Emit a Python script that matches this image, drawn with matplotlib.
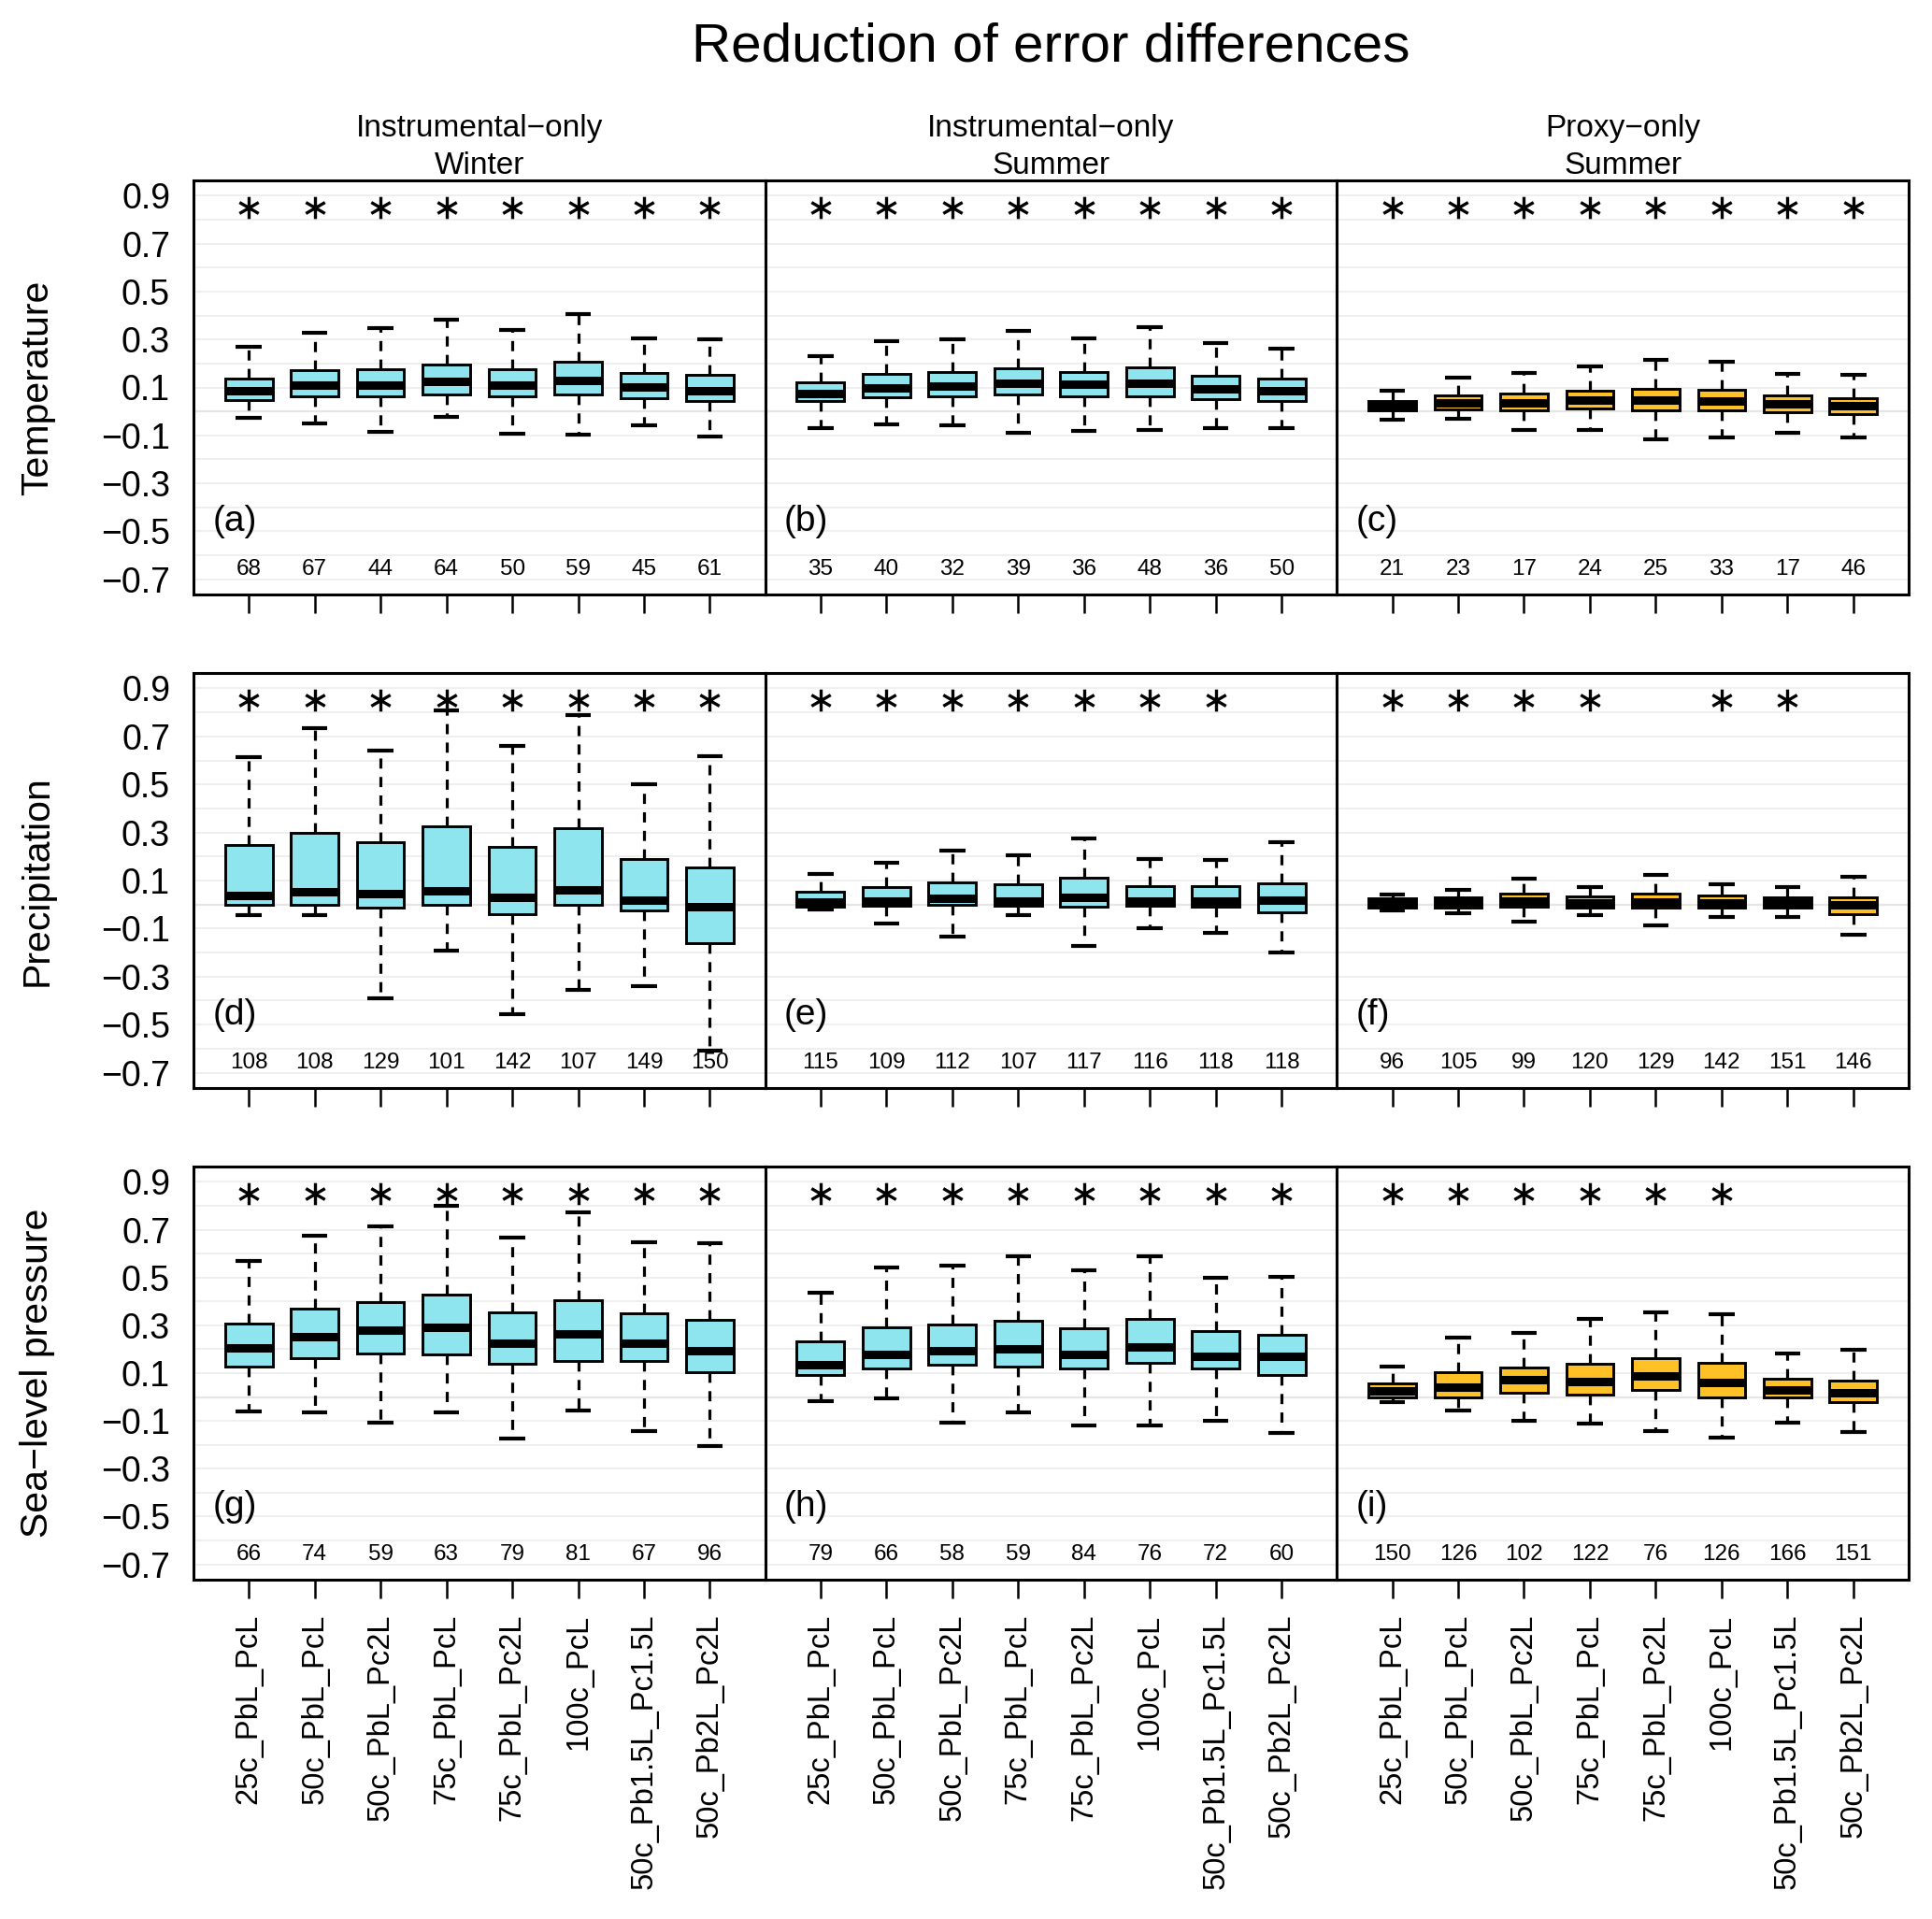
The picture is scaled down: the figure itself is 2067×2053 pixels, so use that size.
import matplotlib
matplotlib.use("Agg")
import matplotlib.pyplot as plt
from matplotlib.path import Path
import numpy as np

plt.rcParams['font.family'] = ['Liberation Sans', 'DejaVu Sans']

# ---------------- data ----------------
title = "Reduction of error differences"
col_titles = ["Instrumental\u2212only\nWinter", "Instrumental\u2212only\nSummer", "Proxy\u2212only\nSummer"]
row_titles = ["Temperature", "Precipitation", "Sea\u2212level pressure"]
panel_letters = ["(a)", "(b)", "(c)", "(d)", "(e)", "(f)", "(g)", "(h)", "(i)"]
categories = ["25c_PbL_PcL", "50c_PbL_PcL", "50c_PbL_Pc2L", "75c_PbL_PcL",
              "75c_PbL_Pc2L", "100c_PcL", "50c_Pb1.5L_Pc1.5L", "50c_Pb2L_Pc2L"]
y_ticks = [-0.7, -0.5, -0.3, -0.1, 0.1, 0.3, 0.5, 0.7, 0.9]
y_tick_labels = ["\u22120.7", "\u22120.5", "\u22120.3", "\u22120.1", "0.1", "0.3", "0.5", "0.7", "0.9"]
grid_levels = [-0.7, -0.6, -0.5, -0.4, -0.3, -0.2, -0.1, 0.0, 0.1, 0.2, 0.3, 0.4, 0.5, 0.6, 0.7, 0.8, 0.9]

whisker_low = [
    [-0.027, -0.052, -0.084, -0.023, -0.095, -0.096, -0.057, -0.105],
    [-0.068, -0.053, -0.057, -0.088, -0.082, -0.078, -0.071, -0.069],
    [-0.035, -0.031, -0.079, -0.078, -0.117, -0.108, -0.088, -0.108],
    [-0.043, -0.043, -0.391, -0.190, -0.458, -0.356, -0.338, -0.608],
    [-0.021, -0.079, -0.135, -0.043, -0.173, -0.097, -0.118, -0.201],
    [-0.026, -0.036, -0.071, -0.045, -0.086, -0.051, -0.053, -0.126],
    [-0.062, -0.066, -0.109, -0.066, -0.173, -0.058, -0.142, -0.205],
    [-0.019, -0.005, -0.106, -0.066, -0.119, -0.117, -0.101, -0.149],
    [-0.022, -0.058, -0.100, -0.112, -0.142, -0.170, -0.108, -0.147],
]
quartile1 = [
    [0.049, 0.062, 0.061, 0.070, 0.062, 0.070, 0.057, 0.044],
    [0.042, 0.060, 0.062, 0.070, 0.062, 0.062, 0.052, 0.045],
    [0.004, 0.010, 0.005, 0.013, 0.005, 0.003, -0.003, -0.013],
    [0.000, 0.000, -0.013, 0.000, -0.042, -0.003, -0.023, -0.161],
    [-0.008, -0.005, -0.003, -0.005, -0.008, -0.005, -0.008, -0.032],
    [-0.012, -0.013, -0.010, -0.013, -0.013, -0.014, -0.014, -0.040],
    [0.126, 0.164, 0.183, 0.179, 0.139, 0.151, 0.152, 0.105],
    [0.091, 0.119, 0.135, 0.129, 0.119, 0.143, 0.119, 0.091],
    [0.000, 0.000, 0.018, 0.010, 0.029, 0.000, 0.000, -0.020],
]
median = [
    [0.086, 0.109, 0.109, 0.125, 0.109, 0.130, 0.101, 0.086],
    [0.073, 0.099, 0.104, 0.117, 0.112, 0.117, 0.094, 0.087],
    [0.025, 0.034, 0.036, 0.049, 0.049, 0.043, 0.031, 0.023],
    [0.039, 0.053, 0.044, 0.058, 0.029, 0.061, 0.017, -0.008],
    [0.010, 0.013, 0.027, 0.014, 0.030, 0.014, 0.013, 0.018],
    [0.005, 0.010, 0.013, 0.007, 0.010, 0.005, 0.008, 0.000],
    [0.206, 0.252, 0.279, 0.291, 0.227, 0.266, 0.227, 0.192],
    [0.136, 0.177, 0.194, 0.200, 0.180, 0.208, 0.169, 0.171],
    [0.025, 0.040, 0.074, 0.063, 0.089, 0.059, 0.030, 0.019],
]
quartile3 = [
    [0.139, 0.173, 0.178, 0.197, 0.175, 0.209, 0.162, 0.151],
    [0.122, 0.157, 0.165, 0.179, 0.164, 0.182, 0.149, 0.136],
    [0.044, 0.068, 0.073, 0.086, 0.094, 0.090, 0.065, 0.057],
    [0.248, 0.297, 0.258, 0.326, 0.242, 0.317, 0.191, 0.156],
    [0.052, 0.071, 0.092, 0.083, 0.110, 0.078, 0.077, 0.088],
    [0.025, 0.029, 0.045, 0.034, 0.047, 0.036, 0.029, 0.029],
    [0.309, 0.371, 0.399, 0.430, 0.356, 0.403, 0.352, 0.322],
    [0.232, 0.292, 0.303, 0.319, 0.288, 0.325, 0.275, 0.260],
    [0.056, 0.105, 0.125, 0.141, 0.163, 0.144, 0.078, 0.070],
]
whisker_high = [
    [0.268, 0.330, 0.348, 0.383, 0.339, 0.405, 0.305, 0.301],
    [0.230, 0.292, 0.301, 0.335, 0.306, 0.351, 0.284, 0.262],
    [0.086, 0.142, 0.162, 0.186, 0.214, 0.208, 0.155, 0.153],
    [0.613, 0.735, 0.642, 0.808, 0.661, 0.788, 0.500, 0.617],
    [0.126, 0.173, 0.226, 0.206, 0.277, 0.188, 0.184, 0.258],
    [0.040, 0.061, 0.109, 0.073, 0.122, 0.083, 0.073, 0.114],
    [0.569, 0.674, 0.712, 0.800, 0.668, 0.771, 0.647, 0.642],
    [0.438, 0.542, 0.548, 0.587, 0.530, 0.587, 0.499, 0.503],
    [0.127, 0.250, 0.270, 0.326, 0.355, 0.347, 0.184, 0.199],
]
counts = [
    [68, 67, 44, 64, 50, 59, 45, 61],
    [35, 40, 32, 39, 36, 48, 36, 50],
    [21, 23, 17, 24, 25, 33, 17, 46],
    [108, 108, 129, 101, 142, 107, 149, 150],
    [115, 109, 112, 107, 117, 116, 118, 118],
    [96, 105, 99, 120, 129, 142, 151, 146],
    [66, 74, 59, 63, 79, 81, 67, 96],
    [79, 66, 58, 59, 84, 76, 72, 60],
    [150, 126, 102, 122, 76, 126, 166, 151],
]
significant = [
    [1, 1, 1, 1, 1, 1, 1, 1],
    [1, 1, 1, 1, 1, 1, 1, 1],
    [1, 1, 1, 1, 1, 1, 1, 1],
    [1, 1, 1, 1, 1, 1, 1, 1],
    [1, 1, 1, 1, 1, 1, 1, 0],
    [1, 1, 1, 1, 0, 1, 1, 0],
    [1, 1, 1, 1, 1, 1, 1, 1],
    [1, 1, 1, 1, 1, 1, 1, 1],
    [1, 1, 1, 1, 1, 1, 0, 0],
]
column_colors = ["#8EE5EE", "#8EE5EE", "#FFC125"]

# ---------------- layout ----------------
W, H = 2067, 2053
fig = plt.figure(figsize=(W / 100, H / 100), dpi=100)
left_px, right_px = 207, 2042
rows_px = [(193, 636), (720, 1164), (1248, 1690)]
colw = (right_px - left_px) / 3.0

c30, s30 = np.cos(np.pi / 6), np.sin(np.pi / 6)
star = Path([(0, -1), (0, 1), (-c30, -s30), (c30, s30), (-c30, s30), (c30, -s30)],
            [Path.MOVETO, Path.LINETO, Path.MOVETO, Path.LINETO, Path.MOVETO, Path.LINETO])

positions = np.arange(1, len(categories) + 1)

for r in range(3):
    for c in range(3):
        k = r * 3 + c
        top, bot = rows_px[r]
        ax = fig.add_axes([(left_px + c * colw) / W, 1 - bot / H, colw / W, (bot - top) / H])
        ax.set_xlim(0.16, 8.84)
        ax.set_ylim(-0.764, 0.964)

        ax.set_yticks(y_ticks)
        ax.set_yticks(grid_levels, minor=True)
        ax.grid(axis='y', which='both', color='#ECECEC', linewidth=1.2, zorder=0)
        ax.axhline(0.0, color='#C4C4C4', linewidth=1.5, zorder=0.5)
        ax.set_axisbelow(True)

        stats = []
        for j in range(len(categories)):
            stats.append(dict(med=median[k][j], q1=quartile1[k][j], q3=quartile3[k][j],
                              whislo=whisker_low[k][j], whishi=whisker_high[k][j], fliers=[]))
        ax.bxp(stats, positions=positions, widths=0.72, capwidths=0.39,
               patch_artist=True, showfliers=False, manage_ticks=False,
               boxprops=dict(facecolor=column_colors[c], edgecolor='black', linewidth=2.1),
               medianprops=dict(color='black', linewidth=6.5, solid_capstyle='butt'),
               whiskerprops=dict(color='black', linewidth=2.3, linestyle=(0, (3.4, 2.8))),
               capprops=dict(color='black', linewidth=3.0, solid_capstyle='butt'))

        sig_x = [p for p, s in zip(positions, significant[k]) if s]
        ax.plot(sig_x, [0.85] * len(sig_x), linestyle='none', marker=star,
                markersize=17, markeredgewidth=2.4, color='black', markerfacecolor='none')

        for p, n in zip(positions, counts[k]):
            ax.text(p, -0.66, str(n), ha='center', va='center', fontsize=17.5)
        ax.text(0.45, -0.46, panel_letters[k], ha='left', va='center', fontsize=28)

        for sp in ax.spines.values():
            sp.set_linewidth(2.2)

        ax.set_xticks(positions)
        if r == 2:
            ax.set_xticklabels(categories, rotation=90, fontsize=23.5)
        else:
            ax.set_xticklabels([])
        ax.tick_params(axis='x', length=14.4, width=1.8, direction='out', pad=12)
        ax.tick_params(axis='y', which='both', length=0)
        if c == 0:
            ax.set_yticklabels(y_tick_labels, fontsize=27)
            ax.tick_params(axis='y', pad=18)
        else:
            ax.set_yticklabels([])

        if r == 0:
            ax.set_title(col_titles[c], fontsize=24, pad=1, linespacing=1.38)
        if c == 0:
            fig.text(40 / W, 1 - (top + bot) / 2 / H, row_titles[r], rotation=90,
                     ha='center', va='center', fontsize=29.5)

fig.text((left_px + right_px) / 2 / W, 1 - 66 / H, title, ha='center', va='baseline', fontsize=42)

fig.savefig("out.png", dpi=100)
